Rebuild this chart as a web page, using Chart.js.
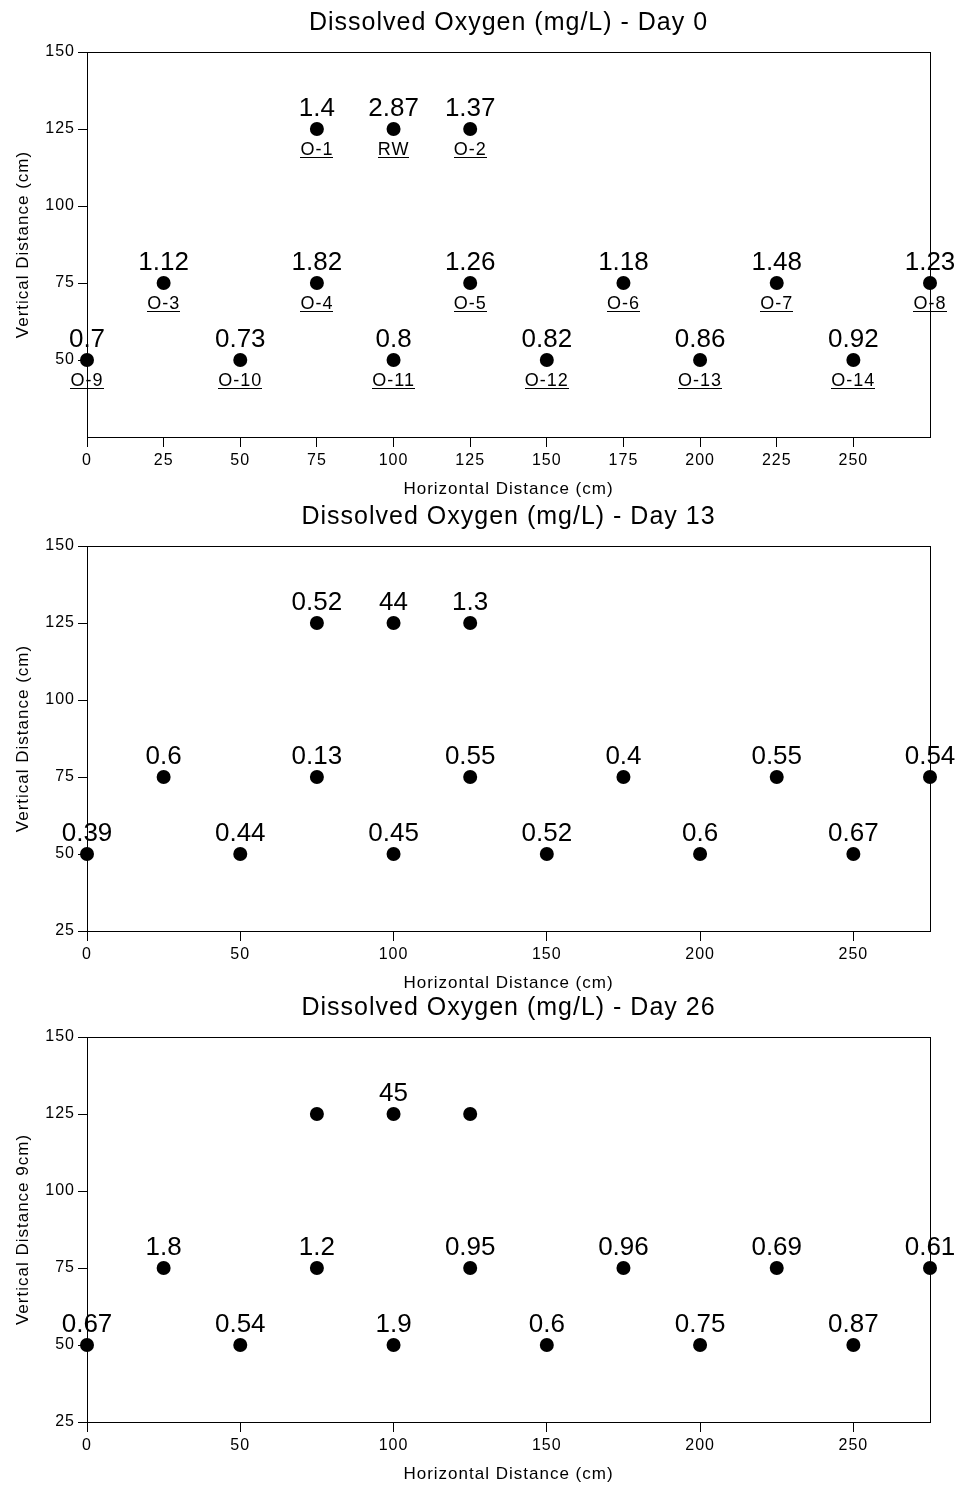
<!DOCTYPE html>
<html>
<head>
<meta charset="utf-8">
<script src="https://cdn.jsdelivr.net/npm/chart.js@4.4.1/dist/chart.umd.min.js"></script>
<style>
    body { margin: 0; background: #fff; }
    #wrap { position: relative; width: 958px; height: 1490px; }
    canvas { position: absolute; left: 0; }
</style>
</head>
<body>
<div id="wrap">
    <canvas id="day0Chart" width="958" height="500" style="top:0px"></canvas>
    <canvas id="day13Chart" width="958" height="500" style="top:494px"></canvas>
    <canvas id="day26Chart" width="958" height="500" style="top:985px"></canvas>
</div>
<script>
//sampling points (cm)
const xPos = [75, 100, 125, 25, 75, 125, 175, 225, 275, 0, 50, 100, 150, 200, 250];
const yPos = [125, 125, 125, 75, 75, 75, 75, 75, 75, 50, 50, 50, 50, 50, 50];
const stations = ['O-1', 'RW', 'O-2', 'O-3', 'O-4', 'O-5', 'O-6', 'O-7', 'O-8', 'O-9', 'O-10', 'O-11', 'O-12', 'O-13', 'O-14'];

//dissolved oxygen (mg/L) per day
const day0 = [1.4, 2.87, 1.37, 1.12, 1.82, 1.26, 1.18, 1.48, 1.23, 0.7, 0.73, 0.8, 0.82, 0.86, 0.92];
const day13 = [0.52, 44, 1.3, 0.6, 0.13, 0.55, 0.4, 0.55, 0.54, 0.39, 0.44, 0.45, 0.52, 0.6, 0.67];
const day26 = [null, 45, null, 1.8, 1.2, 0.95, 0.96, 0.69, 0.61, 0.67, 0.54, 1.9, 0.6, 0.75, 0.87];

//tick labels
const xTicksDay0 = [0, 25, 50, 75, 100, 125, 150, 175, 200, 225, 250];
const xTicksLater = [0, 50, 100, 150, 200, 250];
const yTicksDay0 = [50, 75, 100, 125, 150];
const yTicksLater = [25, 50, 75, 100, 125, 150];

Chart.defaults.font.family = "'Liberation Sans', Arial, sans-serif";
Chart.defaults.color = '#000';

//letter spacing for axis texts, box round the plot, value and station labels
const labelPlugin = {
    id: 'labelPlugin',
    beforeDraw(chart) {
        chart.ctx.letterSpacing = '1px';
    },
    afterDatasetsDraw(chart) {
        const ctx = chart.ctx;
        const opts = chart.options.plugins.labelPlugin;
        const points = chart.getDatasetMeta(0).data;
        ctx.save();
        ctx.fillStyle = '#000';
        ctx.strokeStyle = '#000';
        ctx.lineWidth = 1;
        ctx.textAlign = 'center';
        ctx.textBaseline = 'alphabetic';
        points.forEach((p, i) => {
            if (opts.values[i] !== null) {
                ctx.letterSpacing = '0px';
                ctx.font = "26px 'Liberation Sans', Arial, sans-serif";
                ctx.fillText(String(opts.values[i]), p.x, p.y - 13);
            }
            if (opts.showStations) {
                ctx.letterSpacing = '1px';
                ctx.font = "18px 'Liberation Sans', Arial, sans-serif";
                ctx.fillText(stations[i], p.x, p.y + 26);
                const w = ctx.measureText(stations[i]).width;
                ctx.beginPath();
                ctx.moveTo(Math.round(p.x - w / 2), Math.round(p.y + 28) + 0.5);
                ctx.lineTo(Math.round(p.x + w / 2), Math.round(p.y + 28) + 0.5);
                ctx.stroke();
            }
        });
        ctx.restore();
    },
    afterDraw(chart) {
        const a = chart.chartArea;
        const ctx = chart.ctx;
        ctx.save();
        ctx.strokeStyle = '#000';
        ctx.lineWidth = 1;
        ctx.strokeRect(Math.round(a.left) + 0.5, Math.round(a.top) + 0.5, Math.round(a.right - a.left), Math.round(a.bottom - a.top));
        ctx.restore();
    }
};

function makeChart(id, title, yTitle, values, xTicks, yTicks, showStations) {
    const ctx = document.getElementById(id).getContext('2d');
    return new Chart(ctx, {
        type: 'scatter',
        data: {
            datasets: [{
                data: xPos.map((x, i) => ({x: x, y: yPos[i]})),
                backgroundColor: '#000',
                borderColor: '#000',
                borderWidth: 0,
                pointRadius: 7,
                pointHoverRadius: 7,
                clip: false
            }]
        },
        options: {
            responsive: false,
            animation: false,
            events: [],
            layout: {padding: {left: 0, right: 28, top: 0, bottom: 0}},
            plugins: {
                legend: {display: false},
                tooltip: {enabled: false},
                title: {
                    display: true,
                    text: title,
                    fullSize: false,
                    color: '#000',
                    font: {size: 25, weight: 'normal'},
                    padding: {top: 8, bottom: 14}
                },
                labelPlugin: {values: values, showStations: showStations}
            },
            scales: {
                x: {
                    type: 'linear',
                    min: 0,
                    max: 275,
                    afterBuildTicks: scale => { scale.ticks = xTicks.map(v => ({value: v})); },
                    afterFit: scale => { scale.height = 63; },
                    grid: {drawOnChartArea: false, drawTicks: true, tickLength: 10, color: '#000'},
                    border: {color: '#000'},
                    ticks: {font: {size: 16}, color: '#000', padding: 4, maxRotation: 0, autoSkip: false},
                    title: {display: true, text: 'Horizontal Distance (cm)', color: '#000', font: {size: 17}, padding: {top: 0, bottom: 0}}
                },
                y: {
                    type: 'linear',
                    min: 25,
                    max: 150,
                    afterBuildTicks: scale => { scale.ticks = yTicks.map(v => ({value: v})); },
                    afterFit: scale => { scale.width = 87; },
                    grid: {drawOnChartArea: false, drawTicks: true, tickLength: 9, color: '#000'},
                    border: {color: '#000'},
                    ticks: {font: {size: 16}, color: '#000', padding: 3, autoSkip: false},
                    title: {display: true, text: yTitle, color: '#000', font: {size: 17}, padding: {top: 13, bottom: 0}}
                }
            }
        },
        plugins: [labelPlugin]
    });
}

//day 0 chart
const day0Chart = makeChart('day0Chart', 'Dissolved Oxygen (mg/L) - Day 0', 'Vertical Distance (cm)', day0, xTicksDay0, yTicksDay0, true);

//day 13 chart
const day13Chart = makeChart('day13Chart', 'Dissolved Oxygen (mg/L) - Day 13', 'Vertical Distance (cm)', day13, xTicksLater, yTicksLater, false);

//day 26 chart
const day26Chart = makeChart('day26Chart', 'Dissolved Oxygen (mg/L) - Day 26', 'Vertical Distance 9cm)', day26, xTicksLater, yTicksLater, false);
</script>
</body>
</html>
